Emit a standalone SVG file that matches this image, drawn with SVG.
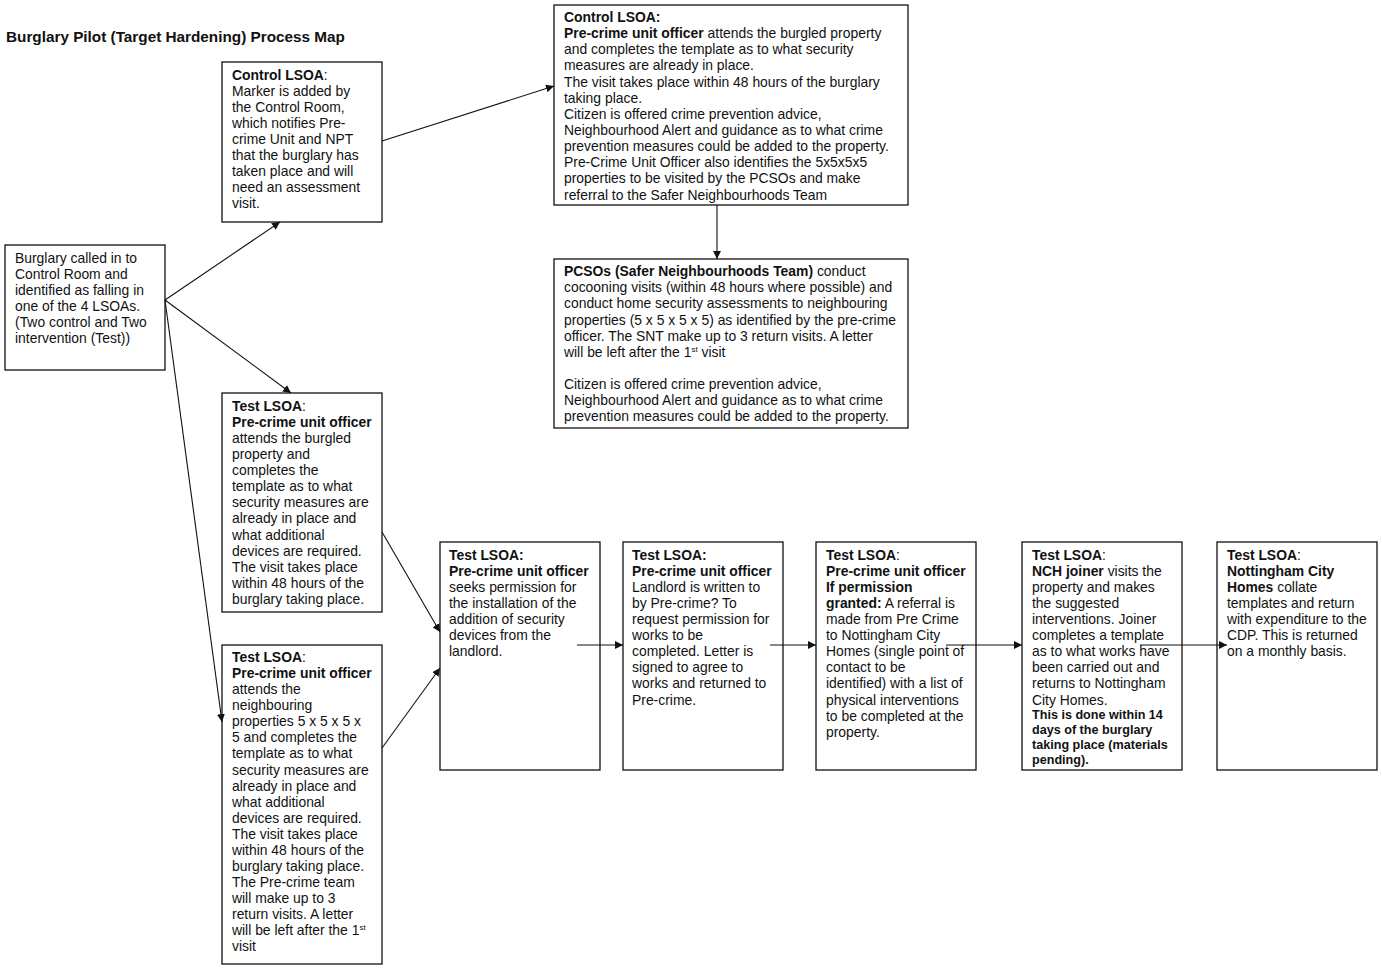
<svg xmlns="http://www.w3.org/2000/svg" width="1382" height="971" viewBox="0 0 1382 971">
<style>
text{font-family:"Liberation Sans",Arial,sans-serif;font-size:13.9px;fill:#111}
.b{font-weight:bold}
.sm{font-size:12.6px;font-weight:bold}
.sup{font-size:8px}
rect{fill:#fff;stroke:#111;stroke-width:1.3}
.c line{stroke:#111;stroke-width:1.1;marker-end:url(#ah)}
</style>
<defs>
<marker id="ah" viewBox="0 0 10 10" refX="10" refY="5" markerWidth="8" markerHeight="8" markerUnits="userSpaceOnUse" orient="auto">
<path d="M0,0 L10,5 L0,10 z" fill="#111"/>
</marker>
</defs>
<rect x="0" y="0" width="1382" height="971" style="stroke:none"/>
<text x="6" y="42" class="b" style="font-size:15.3px">Burglary Pilot (Target Hardening) Process Map</text>

<g id="n_start">
<rect x="5" y="245" width="160" height="125"/>
<text x="15" y="263">Burglary called in to</text>
<text x="15" y="279">Control Room and</text>
<text x="15" y="295">identified as falling in</text>
<text x="15" y="311">one of the 4 LSOAs.</text>
<text x="15" y="327">(Two control and Two</text>
<text x="15" y="343">intervention (Test))</text>
</g>

<g id="n_control1">
<rect x="222" y="62" width="160" height="160"/>
<text x="232" y="80"><tspan class="b">Control LSOA</tspan>:</text>
<text x="232" y="96">Marker is added by</text>
<text x="232" y="112">the Control Room,</text>
<text x="232" y="128">which notifies Pre-</text>
<text x="232" y="144">crime Unit and NPT</text>
<text x="232" y="160">that the burglary has</text>
<text x="232" y="176">taken place and will</text>
<text x="232" y="192">need an assessment</text>
<text x="232" y="208">visit.</text>
</g>

<g id="n_control2">
<rect x="554" y="5" width="354" height="200"/>
<text x="564" y="22" class="b">Control LSOA:</text>
<text x="564" y="38"><tspan class="b">Pre-crime unit officer</tspan> attends the burgled property</text>
<text x="564" y="54">and completes the template as to what security</text>
<text x="564" y="70">measures are already in place.</text>
<text x="564" y="87">The visit takes place within 48 hours of the burglary</text>
<text x="564" y="103">taking place.</text>
<text x="564" y="119">Citizen is offered crime prevention advice,</text>
<text x="564" y="135">Neighbourhood Alert and guidance as to what crime</text>
<text x="564" y="151">prevention measures could be added to the property.</text>
<text x="564" y="167">Pre-Crime Unit Officer also identifies the 5x5x5x5</text>
<text x="564" y="183">properties to be visited by the PCSOs and make</text>
<text x="564" y="200">referral to the Safer Neighbourhoods Team</text>
</g>

<g id="n_pcso">
<rect x="554" y="259" width="354" height="169"/>
<text x="564" y="276"><tspan class="b">PCSOs (Safer Neighbourhoods Team)</tspan> conduct</text>
<text x="564" y="292">cocooning visits (within 48 hours where possible) and</text>
<text x="564" y="308">conduct home security assessments to neighbouring</text>
<text x="564" y="325">properties (5 x 5 x 5 x 5) as identified by the pre-crime</text>
<text x="564" y="341">officer. The SNT make up to 3 return visits. A letter</text>
<text x="564" y="357">will be left after the 1<tspan class="sup" dy="-5">st</tspan><tspan dy="5"> visit</tspan></text>
<text x="564" y="389">Citizen is offered crime prevention advice,</text>
<text x="564" y="405">Neighbourhood Alert and guidance as to what crime</text>
<text x="564" y="421">prevention measures could be added to the property.</text>
</g>

<g id="n_test1">
<rect x="222" y="393" width="160" height="219"/>
<text x="232" y="411"><tspan class="b">Test LSOA</tspan>:</text>
<text x="232" y="427" class="b">Pre-crime unit officer</text>
<text x="232" y="443">attends the burgled</text>
<text x="232" y="459">property and</text>
<text x="232" y="475">completes the</text>
<text x="232" y="491">template as to what</text>
<text x="232" y="507">security measures are</text>
<text x="232" y="523">already in place and</text>
<text x="232" y="540">what additional</text>
<text x="232" y="556">devices are required.</text>
<text x="232" y="572">The visit takes place</text>
<text x="232" y="588">within 48 hours of the</text>
<text x="232" y="604">burglary taking place.</text>
</g>

<g id="n_test2">
<rect x="222" y="645" width="160" height="319"/>
<text x="232" y="662"><tspan class="b">Test LSOA</tspan>:</text>
<text x="232" y="678" class="b">Pre-crime unit officer</text>
<text x="232" y="694">attends the</text>
<text x="232" y="710">neighbouring</text>
<text x="232" y="726">properties 5 x 5 x 5 x</text>
<text x="232" y="742">5 and completes the</text>
<text x="232" y="758">template as to what</text>
<text x="232" y="775">security measures are</text>
<text x="232" y="791">already in place and</text>
<text x="232" y="807">what additional</text>
<text x="232" y="823">devices are required.</text>
<text x="232" y="839">The visit takes place</text>
<text x="232" y="855">within 48 hours of the</text>
<text x="232" y="871">burglary taking place.</text>
<text x="232" y="887">The Pre-crime team</text>
<text x="232" y="903">will make up to 3</text>
<text x="232" y="919">return visits. A letter</text>
<text x="232" y="935">will be left after the 1<tspan class="sup" dy="-5">st</tspan></text>
<text x="232" y="951">visit</text>
</g>

<g id="n_b1">
<rect x="440" y="542" width="160" height="228"/>
<text x="449" y="560" class="b">Test LSOA:</text>
<text x="449" y="576" class="b">Pre-crime unit officer</text>
<text x="449" y="592">seeks permission for</text>
<text x="449" y="608">the installation of the</text>
<text x="449" y="624">addition of security</text>
<text x="449" y="640">devices from the</text>
<text x="449" y="656">landlord.</text>
</g>

<g id="n_b2">
<rect x="623" y="542" width="160" height="228"/>
<text x="632" y="560" class="b">Test LSOA:</text>
<text x="632" y="576" class="b">Pre-crime unit officer</text>
<text x="632" y="592">Landlord is written to</text>
<text x="632" y="608">by Pre-crime? To</text>
<text x="632" y="624">request permission for</text>
<text x="632" y="640">works to be</text>
<text x="632" y="656">completed. Letter is</text>
<text x="632" y="672">signed to agree to</text>
<text x="632" y="688">works and returned to</text>
<text x="632" y="705">Pre-crime.</text>
</g>

<g id="n_b3">
<rect x="816" y="542" width="160" height="228"/>
<text x="826" y="560"><tspan class="b">Test LSOA</tspan>:</text>
<text x="826" y="576" class="b">Pre-crime unit officer</text>
<text x="826" y="592" class="b">If permission</text>
<text x="826" y="608"><tspan class="b">granted:</tspan> A referral is</text>
<text x="826" y="624">made from Pre Crime</text>
<text x="826" y="640">to Nottingham City</text>
<text x="826" y="656">Homes (single point of</text>
<text x="826" y="672">contact to be</text>
<text x="826" y="688">identified) with a list of</text>
<text x="826" y="705">physical interventions</text>
<text x="826" y="721">to be completed at the</text>
<text x="826" y="737">property.</text>
</g>

<g id="n_b4">
<rect x="1022" y="542" width="160" height="228"/>
<text x="1032" y="560"><tspan class="b">Test LSOA</tspan>:</text>
<text x="1032" y="576"><tspan class="b">NCH joiner</tspan> visits the</text>
<text x="1032" y="592">property and makes</text>
<text x="1032" y="608">the suggested</text>
<text x="1032" y="624">interventions. Joiner</text>
<text x="1032" y="640">completes a template</text>
<text x="1032" y="656">as to what works have</text>
<text x="1032" y="672">been carried out and</text>
<text x="1032" y="688">returns to Nottingham</text>
<text x="1032" y="705">City Homes.</text>
<text x="1032" y="719" class="sm">This is done within 14</text>
<text x="1032" y="734" class="sm">days of the burglary</text>
<text x="1032" y="749" class="sm">taking place (materials</text>
<text x="1032" y="764" class="sm">pending).</text>
</g>

<g id="n_b5">
<rect x="1217" y="542" width="160" height="228"/>
<text x="1227" y="560"><tspan class="b">Test LSOA</tspan>:</text>
<text x="1227" y="576" class="b">Nottingham City</text>
<text x="1227" y="592"><tspan class="b">Homes</tspan> collate</text>
<text x="1227" y="608">templates and return</text>
<text x="1227" y="624">with expenditure to the</text>
<text x="1227" y="640">CDP. This is returned</text>
<text x="1227" y="656">on a monthly basis.</text>
</g>

<g id="connectors" class="c">
<line x1="165" y1="300" x2="280" y2="222"/>
<line x1="165" y1="300" x2="291" y2="393"/>
<line x1="165" y1="300" x2="222" y2="722"/>
<line x1="382" y1="141" x2="554" y2="86"/>
<line x1="717" y1="205" x2="717" y2="259"/>
<line x1="382" y1="532" x2="440" y2="632"/>
<line x1="382" y1="748" x2="440" y2="668"/>
<line x1="577" y1="645" x2="623" y2="645"/>
<line x1="770" y1="645" x2="816" y2="645"/>
<line x1="946" y1="645" x2="1022" y2="645"/>
<line x1="1140" y1="645" x2="1227" y2="645"/>
</g>
</svg>
